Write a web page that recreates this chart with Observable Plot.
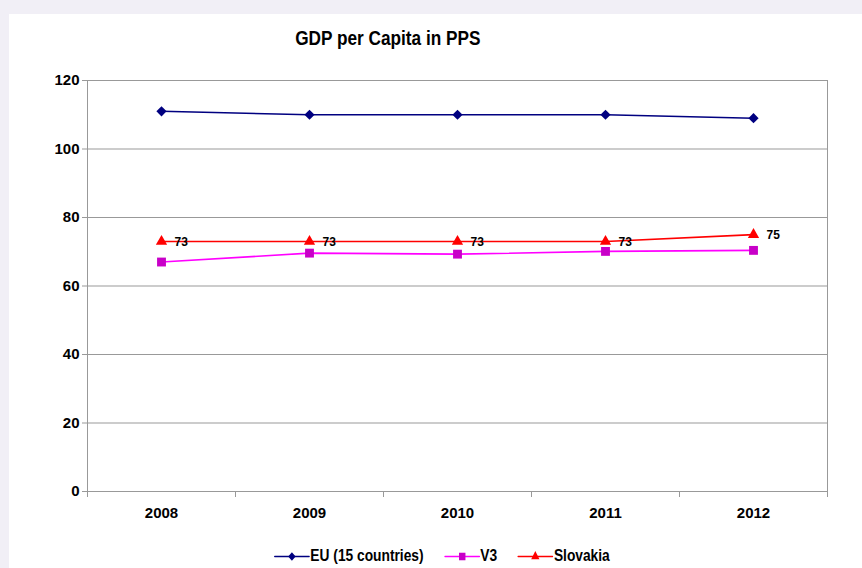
<!DOCTYPE html>
<html>
<head>
<meta charset="utf-8">
<script src="https://cdn.jsdelivr.net/npm/d3@7"></script>
<script src="https://cdn.jsdelivr.net/npm/@observablehq/plot@0.6"></script>
<style>
  html, body { margin: 0; padding: 0; }
  body { width: 862px; height: 568px; background: #f1eff6; position: relative; overflow: hidden;
         font-family: "Liberation Sans", Arial, sans-serif; }
  #panel { position: absolute; left: 9px; top: 14px; width: 853px; height: 554px; background: #fff; }
  #title { position: absolute; left: 0; width: 776px; top: 26px; text-align: center; font-weight: bold; font-size: 21px; color: #000;
           transform: scaleX(0.82); transform-origin: 387px 0; }
  #chart { position: absolute; left: 0; top: 60px; }
  #legend { position: absolute; left: 0; width: 884px; top: 547px; display: flex; justify-content: center; gap: 24px; font-weight: bold; font-size: 16px;
            transform: scaleX(0.86); transform-origin: 442px 0; }
  .item { display: flex; align-items: center; gap: 2px; }
</style>
</head>
<body>
<div id="panel"></div>
<div id="title">GDP per Capita in PPS</div>
<div id="chart"></div>
<div id="legend"></div>
<script>
const years = [2008, 2009, 2010, 2011, 2012];
const seriesNames = ["EU (15 countries)", "V3", "Slovakia"];
const eu = [111, 110, 110, 110, 109];
const v3 = [67, 69.6, 69.3, 70.1, 70.4];
const slovakia = [73, 73, 73, 73, 75];
const yTicks = [0, 20, 40, 60, 80, 100, 120];

const lineColors = ["#000080", "#ff00ff", "#ff0000"];
const markColors = ["#000080", "#c800c8", "#ff0000"];
const symbols = ["diamond2", "square", "triangle"];
const radii = [4.6, 5.0, 4.2];

const values = [eu, v3, slovakia];
const rows = [];
seriesNames.forEach((s, i) => years.forEach((yr, j) => rows.push({series: s, idx: i, year: yr, value: values[i][j]})));
const boundaries = [...years.map(y => y - 0.5), years[years.length - 1] + 0.5];
const font = '"Liberation Sans", Arial, sans-serif';

const marks = [
  Plot.gridY(yTicks, {stroke: "#999", strokeOpacity: 1}),
  Plot.frame({stroke: "#999"}),
  Plot.axisY(yTicks, {label: null, tickSize: 5, tickPadding: 3, stroke: "#999", fontSize: 15, fontWeight: "bold", fill: "#000"}),
  Plot.axisX(boundaries, {label: null, tickSize: 6, tickFormat: () => "", stroke: "#999"}),
  Plot.axisX(years, {label: null, tickSize: 0, tickPadding: 16, tickFormat: d3.format("d"), fontSize: 15, fontWeight: "bold", fill: "#000"})
];
seriesNames.forEach((s, i) => {
  const d = rows.filter(r => r.idx === i);
  marks.push(Plot.line(d, {x: "year", y: "value", stroke: lineColors[i], strokeWidth: 1.6}));
  marks.push(Plot.dot(d, {x: "year", y: "value", symbol: () => symbols[i], fill: markColors[i], r: radii[i], stroke: "none"}));
});
marks.push(Plot.text(rows.filter(r => r.idx === 2), {x: "year", y: "value", text: d => String(d.value), dx: 13, dy: 1, textAnchor: "start", fontSize: 12, fontWeight: "bold", fill: "#000"}));

const chart = Plot.plot({
  width: 862,
  height: 475,
  marginLeft: 87,
  marginRight: 35,
  marginTop: 20,
  marginBottom: 44,
  style: {background: "transparent", fontFamily: font, overflow: "visible"},
  x: {type: "linear", domain: [years[0] - 0.5, years[years.length - 1] + 0.5], axis: null},
  y: {domain: [0, 120], axis: null},
  symbol: {type: "identity"},
  marks
});
document.getElementById("chart").appendChild(chart);

const legend = document.getElementById("legend");
seriesNames.forEach((s, i) => {
  const item = document.createElement("div");
  item.className = "item";
  const sw = Plot.plot({
    width: 40, height: 14, margin: 0,
    x: {domain: [0, 1], axis: null}, y: {domain: [0, 1], axis: null},
    symbol: {type: "identity"},
    style: {background: "transparent", overflow: "visible"},
    marks: [
      Plot.lineX([{x: 0, y: 0.5}, {x: 1, y: 0.5}], {x: "x", y: "y", stroke: lineColors[i], strokeWidth: 1.6}),
      Plot.dot([{x: 0.5, y: 0.5}], {x: "x", y: "y", symbol: () => symbols[i], fill: markColors[i], r: radii[i] * 0.85})
    ]
  });
  item.appendChild(sw);
  const label = document.createElement("span");
  label.textContent = s;
  item.appendChild(label);
  legend.appendChild(item);
});
</script>
</body>
</html>
